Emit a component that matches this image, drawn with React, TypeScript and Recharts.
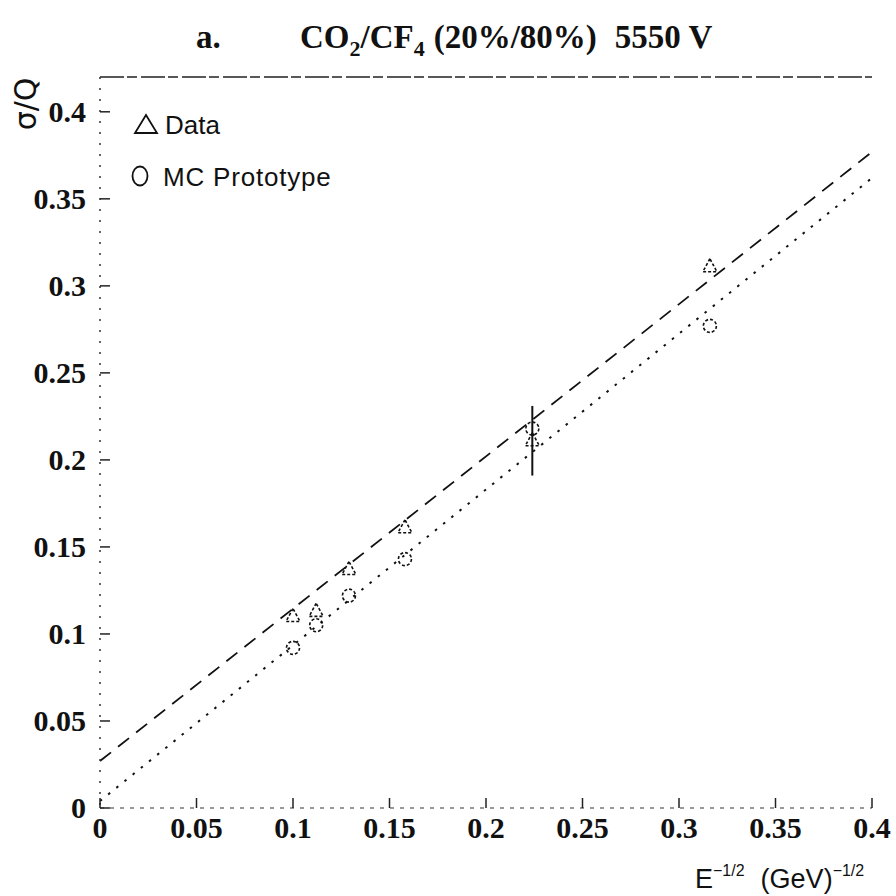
import React from 'react';
import { ComposedChart, Scatter, Line, XAxis, YAxis, ReferenceLine, ErrorBar, Customized } from 'recharts';

// x positions: E^-1/2 (GeV)^-1/2
const energyX = [0.1, 0.112, 0.129, 0.158, 0.224, 0.316];
const dataSigma = [0.11, 0.113, 0.137, 0.161, 0.211, 0.311];
const dataErr = [0, 0, 0, 0, 0.02, 0];
const mcSigma = [0.092, 0.105, 0.122, 0.143, 0.218, 0.277];

// straight-line fits (endpoints)
const fitX = [0, 0.4];
const dataFit = [0.027, 0.377];
const mcFit = [0.004, 0.362];

const xTicks = [0, 0.05, 0.1, 0.15, 0.2, 0.25, 0.3, 0.35, 0.4];
const yTicks = [0, 0.05, 0.1, 0.15, 0.2, 0.25, 0.3, 0.35, 0.4];
const yMax = 0.42;

const dataPts = energyX.map((x, i) => ({ x, y: dataSigma[i], err: dataErr[i] }));
const mcPts = energyX.map((x, i) => ({ x, y: mcSigma[i] }));
const dataLine = fitX.map((x, i) => ({ x, y: dataFit[i] }));
const mcLine = fitX.map((x, i) => ({ x, y: mcFit[i] }));

const tickFont = { fontFamily: '"Liberation Serif", serif', fontWeight: 700, fontSize: 30, fill: '#111' };
const fmt = (v: number) => (v === 0 ? '0' : String(v));

const YTick = ({ x, y, payload }: any) => (
  <g>
    <line x1={x} y1={y} x2={x + 10} y2={y} stroke="#222" strokeWidth={1.5} />
    <text x={x - 14} y={y + 10} textAnchor="end" {...tickFont}>{fmt(payload.value)}</text>
  </g>
);

const XTick = ({ x, y, payload }: any) => (
  <g>
    <line x1={x} y1={y} x2={x} y2={y - 10} stroke="#222" strokeWidth={1.5} />
    <text x={x} y={y + 30} textAnchor="middle" {...tickFont}>{fmt(payload.value)}</text>
  </g>
);

const Triangle = ({ cx, cy }: any) => (
  <polygon
    points={`${cx},${cy - 8} ${cx - 7},${cy + 5} ${cx + 7},${cy + 5}`}
    fill="none" stroke="#111" strokeWidth={1.6} strokeDasharray="3 2"
  />
);

const Ring = ({ cx, cy }: any) => (
  <circle cx={cx} cy={cy} r={6.5} fill="none" stroke="#111" strokeWidth={1.6} strokeDasharray="3 2" />
);

const sans = '"Liberation Sans", Arial, sans-serif';
const serif = '"Liberation Serif", serif';

const Annotations = () => (
  <g>
    <text x={196} y={48} fontFamily={serif} fontWeight={700} fontSize={33} fill="#111">a.</text>
    <text x={300} y={48} fontFamily={serif} fontWeight={700} fontSize={33} fill="#111">
      CO<tspan fontSize={22} dy={8}>2</tspan>
      <tspan dy={-8}>/CF</tspan>
      <tspan fontSize={22} dy={8}>4</tspan>
      <tspan dy={-8} dx={9}>(20%/80%)</tspan>
      <tspan dx={18}>5550 V</tspan>
    </text>
    <polygon points="146,115 135,133 157,133" fill="none" stroke="#111" strokeWidth={1.8} />
    <text x={165} y={134} fontFamily={sans} fontSize={26} fill="#111">Data</text>
    <ellipse cx={140} cy={176} rx={7.5} ry={9.5} fill="none" stroke="#111" strokeWidth={1.8} />
    <text x={163} y={186} fontFamily={sans} fontSize={26} letterSpacing={0.8} fill="#111">MC Prototype</text>
    <text x={0} y={0} transform="translate(36,104) rotate(-90)" textAnchor="middle"
      fontFamily='"DejaVu Sans", sans-serif' fontSize={30} fill="#111">σ/Q</text>
    <text x={695} y={888} fontFamily={sans} fontSize={27} fill="#111">
      E<tspan fontSize={16} dy={-12}>−1/2</tspan>
      <tspan dy={12} dx={16}>(GeV)</tspan>
      <tspan fontSize={16} dy={-12}>−1/2</tspan>
    </text>
  </g>
);

export default function App() {
  return (
    <div style={{ position: 'absolute', left: 0, top: 0, width: 896, height: 896, background: '#fff' }}>
      <ComposedChart width={896} height={896} margin={{ top: 77, right: 24, left: 0, bottom: 28 }}>
        <XAxis
          type="number" dataKey="x" domain={[0, 0.4]} ticks={xTicks} height={60}
          tickSize={0} tickMargin={0} tick={<XTick />} tickLine={false}
          axisLine={{ stroke: '#333', strokeDasharray: '4 6', strokeWidth: 1.2 }}
          allowDataOverflow
        />
        <YAxis
          type="number" dataKey="y" domain={[0, yMax]} ticks={yTicks} width={100}
          tickSize={0} tickMargin={0} tick={<YTick />} tickLine={false}
          axisLine={{ stroke: '#333', strokeDasharray: '2 9', strokeWidth: 1.5 }}
          allowDataOverflow
        />
        <ReferenceLine y={yMax} stroke="#222" strokeWidth={1.5} strokeDasharray="24 3 10 4" />
        <Line data={dataLine} dataKey="y" type="linear" stroke="#111" strokeWidth={1.8}
          strokeDasharray="14 9" dot={false} isAnimationActive={false} />
        <Line data={mcLine} dataKey="y" type="linear" stroke="#111" strokeWidth={2}
          strokeDasharray="2.5 8" dot={false} isAnimationActive={false} />
        <Scatter data={dataPts} dataKey="y" shape={<Triangle />} isAnimationActive={false}>
          <ErrorBar dataKey="err" direction="y" width={0} stroke="#111" strokeWidth={2} />
        </Scatter>
        <Scatter data={mcPts} dataKey="y" shape={<Ring />} isAnimationActive={false} />
        <Customized component={<Annotations />} />
      </ComposedChart>
    </div>
  );
}
